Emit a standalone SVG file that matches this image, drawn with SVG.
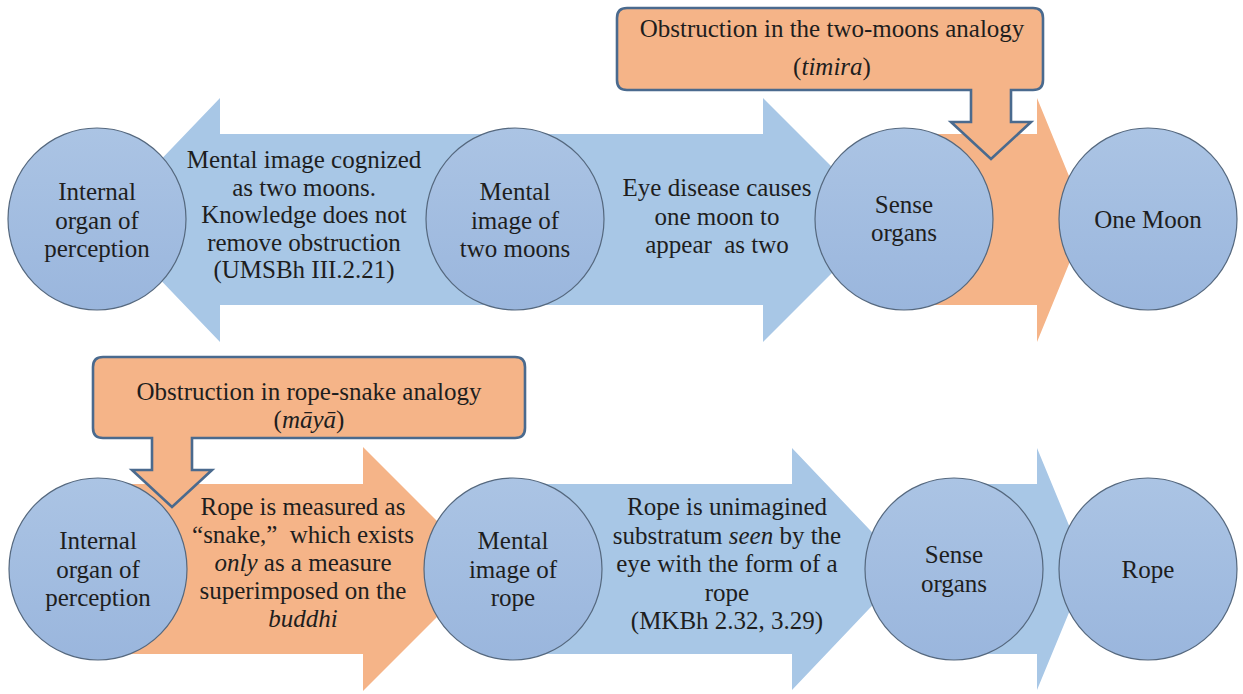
<svg xmlns="http://www.w3.org/2000/svg" width="1243" height="694" viewBox="0 0 1243 694">
  <defs>
    <linearGradient id="discFill" x1="0" y1="0" x2="0" y2="1">
      <stop offset="0" stop-color="#abc4e4"/>
      <stop offset="1" stop-color="#9ab6dd"/>
    </linearGradient>
  </defs>
  <style>
    .bg { fill: #ffffff; }
    .flow-blue { fill: #a8c7e6; }
    .flow-orange { fill: #f5b488; }
    .disc { fill: url(#discFill); stroke: #55687e; stroke-width: 1.2; }
    .callout { fill: #f5b488; stroke: #4a6a8e; stroke-width: 2.6; stroke-linejoin: miter; }
    .t { font-size: 25px; fill: #1e1e1e; text-anchor: middle; }
    .it { font-style: italic; }
  </style>

  <rect class="bg" x="0" y="0" width="1243" height="694"/>

  <!-- block arrows between the stages -->
  <g id="connectors">
    <!-- top row: mental image back to internal organ -->
    <path class="flow-blue" d="M 103 220 L 220 98 V 134 H 515 V 305 H 220 V 342 Z"/>
    <!-- top row: mental image to sense organs -->
    <path class="flow-blue" d="M 515 134 H 763 V 98 L 885 220 L 763 342 V 305 H 515 Z"/>
    <!-- top row: sense organs to one moon (obstructed) -->
    <path class="flow-orange" d="M 905 134 H 1037 V 98 L 1087 220 L 1037 342 V 305 H 905 Z"/>
    <!-- bottom row: internal organ to mental image (obstructed) -->
    <path class="flow-orange" d="M 110 484 H 363 V 447 L 485 569 L 363 691 V 654 H 110 Z"/>
    <!-- bottom row: mental image to sense organs -->
    <path class="flow-blue" d="M 513 484 H 792 V 448 L 907 569 L 792 690 V 654 H 513 Z"/>
    <!-- bottom row: sense organs to rope -->
    <path class="flow-blue" d="M 960 484 H 1037 V 448 L 1087 569 L 1037 690 V 654 H 960 Z"/>
  </g>

  <!-- labels carried on the arrows -->
  <g id="label-two-moons-cognized" font-family="Liberation Serif">
    <text class="t" x="304" y="168">Mental image cognized</text>
    <text class="t" x="304" y="195.5">as two moons.</text>
    <text class="t" x="304" y="223">Knowledge does not</text>
    <text class="t" x="304" y="250.5">remove obstruction</text>
    <text class="t" x="304" y="278">(UMSBh III.2.21)</text>
  </g>
  <g id="label-eye-disease" font-family="Liberation Serif">
    <text class="t" x="717" y="196">Eye disease causes</text>
    <text class="t" x="717" y="224.5">one moon to</text>
    <text class="t" x="717" y="253">appear <tspan dx="6">as two</tspan></text>
  </g>
  <g id="label-rope-measured" font-family="Liberation Serif">
    <text class="t" x="303" y="515">Rope is measured as</text>
    <text class="t" x="303" y="543">“snake,” <tspan dx="6">which exists</tspan></text>
    <text class="t" x="303" y="571"><tspan class="it">only</tspan> as a measure</text>
    <text class="t" x="303" y="599">superimposed on the</text>
    <text class="t it" x="303" y="627">buddhi</text>
  </g>
  <g id="label-rope-seen" font-family="Liberation Serif">
    <text class="t" x="727" y="515">Rope is unimagined</text>
    <text class="t" x="727" y="543.5">substratum <tspan class="it">seen</tspan> by the</text>
    <text class="t" x="727" y="572">eye with the form of a</text>
    <text class="t" x="727" y="600.5">rope</text>
    <text class="t" x="727" y="629">(MKBh 2.32, 3.29)</text>
  </g>

  <!-- top row stages -->
  <g id="internal-organ-top" font-family="Liberation Serif">
    <ellipse class="disc" cx="97" cy="219" rx="89" ry="91"/>
    <text class="t" x="97" y="200">Internal</text>
    <text class="t" x="97" y="229">organ of</text>
    <text class="t" x="97" y="257">perception</text>
  </g>
  <g id="mental-image-two-moons" font-family="Liberation Serif">
    <ellipse class="disc" cx="515" cy="219" rx="89" ry="91"/>
    <text class="t" x="515" y="200">Mental</text>
    <text class="t" x="515" y="229">image of</text>
    <text class="t" x="515" y="257">two moons</text>
  </g>
  <g id="sense-organs-top" font-family="Liberation Serif">
    <ellipse class="disc" cx="904" cy="219" rx="89" ry="91"/>
    <text class="t" x="904" y="213">Sense</text>
    <text class="t" x="904" y="241">organs</text>
  </g>
  <g id="one-moon" font-family="Liberation Serif">
    <ellipse class="disc" cx="1148" cy="219" rx="89" ry="91"/>
    <text class="t" x="1148" y="228">One Moon</text>
  </g>

  <!-- bottom row stages -->
  <g id="internal-organ-bottom" font-family="Liberation Serif">
    <ellipse class="disc" cx="98" cy="569" rx="89" ry="91"/>
    <text class="t" x="98" y="549">Internal</text>
    <text class="t" x="98" y="578">organ of</text>
    <text class="t" x="98" y="606">perception</text>
  </g>
  <g id="mental-image-rope" font-family="Liberation Serif">
    <ellipse class="disc" cx="513" cy="569" rx="89" ry="91"/>
    <text class="t" x="513" y="549">Mental</text>
    <text class="t" x="513" y="578">image of</text>
    <text class="t" x="513" y="606">rope</text>
  </g>
  <g id="sense-organs-bottom" font-family="Liberation Serif">
    <ellipse class="disc" cx="954" cy="569" rx="89" ry="91"/>
    <text class="t" x="954" y="563">Sense</text>
    <text class="t" x="954" y="592">organs</text>
  </g>
  <g id="rope" font-family="Liberation Serif">
    <ellipse class="disc" cx="1148" cy="569" rx="89" ry="91"/>
    <text class="t" x="1148" y="578">Rope</text>
  </g>

  <!-- obstruction callouts -->
  <g id="obstruction-timira" font-family="Liberation Serif">
    <path class="callout" d="M 627 8 H 1033 Q 1043 8 1043 18 V 80 Q 1043 90 1033 90 H 1011 V 122 H 1031 L 991 159 L 951 122 H 971 V 90 H 627 Q 617 90 617 80 V 18 Q 617 8 627 8 Z"/>
    <text class="t" x="832" y="37">Obstruction in the two-moons analogy</text>
    <text class="t" x="832" y="75">(<tspan class="it">timira</tspan>)</text>
  </g>
  <g id="obstruction-maya" font-family="Liberation Serif">
    <path class="callout" d="M 103 357 H 515 Q 525 357 525 367 V 428 Q 525 438 515 438 H 192 V 470 H 212 L 172 507 L 132 470 H 152 V 438 H 103 Q 93 438 93 428 V 367 Q 93 357 103 357 Z"/>
    <text class="t" x="309" y="400">Obstruction in rope-snake analogy</text>
    <text class="t" x="309" y="428">(<tspan class="it">māyā</tspan>)</text>
  </g>
</svg>
